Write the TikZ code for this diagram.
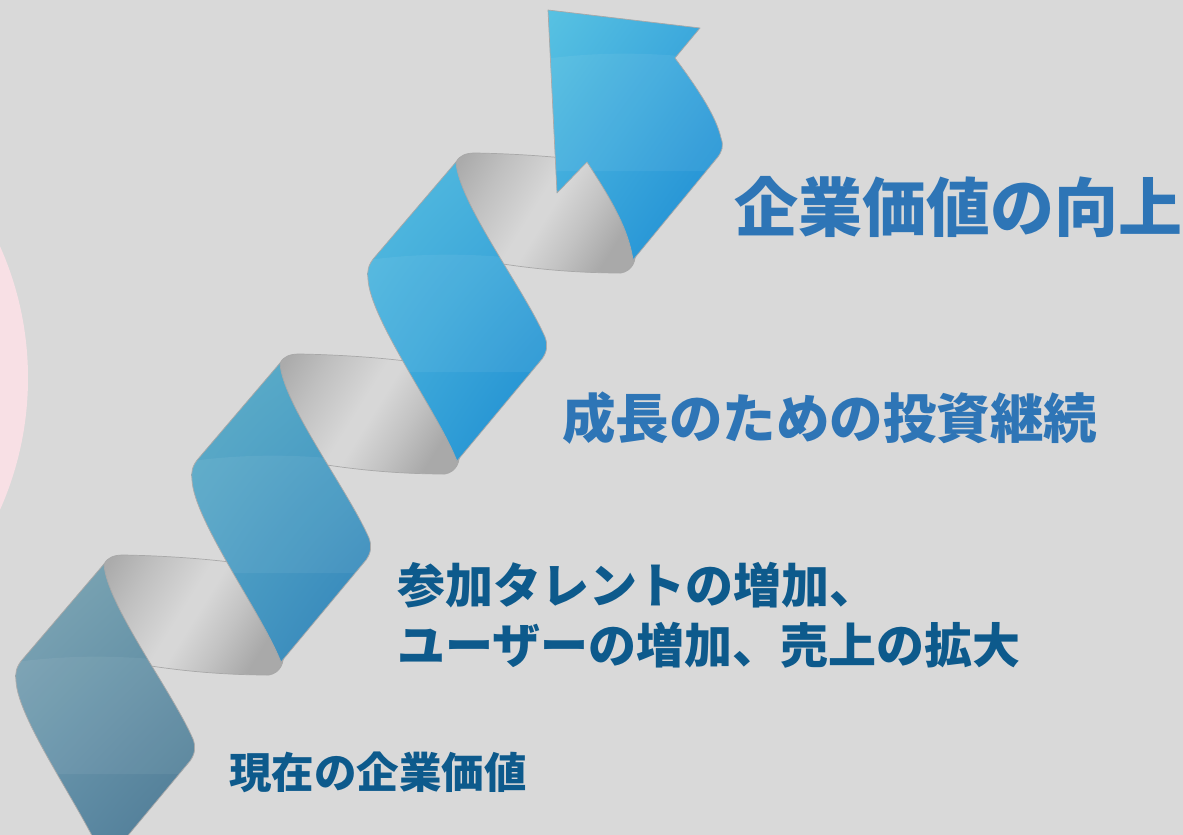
\documentclass[tikz,border=0pt]{standalone}
\usepackage{fontspec}
\usetikzlibrary{shadings}
\newfontfamily\jp{Noto Sans CJK JP}
\definecolor{bg}{HTML}{D9D9D9}
\definecolor{blush}{HTML}{F8E0E5}
\definecolor{headblue}{HTML}{2E75B6}
\definecolor{deepblue}{HTML}{0D5A8C}
\definecolor{gA}{HTML}{ABABAB}
\definecolor{gB}{HTML}{C0C0C0}
\definecolor{gC}{HTML}{D7D7D7}
\definecolor{gD}{HTML}{C3C3C3}
\definecolor{gE}{HTML}{A9A9A9}
\definecolor{blue1a}{HTML}{82A8B6}
\definecolor{blue1b}{HTML}{6B9AAC}
\definecolor{blue1c}{HTML}{5E8DA7}
\definecolor{blue1d}{HTML}{4B7692}
\definecolor{blue2a}{HTML}{60AEC8}
\definecolor{blue2b}{HTML}{4EA4C7}
\definecolor{blue2c}{HTML}{4A9CC4}
\definecolor{blue2d}{HTML}{3081B8}
\definecolor{blue3a}{HTML}{56BCDF}
\definecolor{blue3b}{HTML}{44AEDC}
\definecolor{blue3c}{HTML}{3CA8DA}
\definecolor{blue3d}{HTML}{1A8AD0}
\definecolor{blue4a}{HTML}{58C2E2}
\definecolor{blue4b}{HTML}{3AA6DC}
\definecolor{blue4c}{HTML}{3AA6DC}
\definecolor{blue4d}{HTML}{1A8AD2}
\pgfdeclarehorizontalshading{graypanel}{100bp}{color(0bp)=(gA); color(25bp)=(gA); color(36bp)=(gB); color(50bp)=(gC); color(54bp)=(gC); color(64bp)=(gD); color(75bp)=(gE); color(100bp)=(gE)}
% one turn of the ribbon: front (blue) face and inner (grey) face
\newcommand\ribbonfront{(280,363) -- (198,459) .. controls (192,466) and (191,473) .. (192,480) .. controls (194,520) and (260,610) .. (281,662) -- (366,560) .. controls (371,553) and (372,546) .. (369,538) .. controls (348,490) and (282,403) .. (280,363) -- cycle}
\newcommand\ribbonback{(280,363) .. controls (284,356) and (290,354) .. (300,354) .. controls (350,355) and (400,359) .. (440,366) -- (459,450) .. controls (461,462) and (456,472) .. (445,474) .. controls (400,474) and (360,470) .. (327,465) -- (250,420) -- cycle}
\newcommand\ribbongloss{(150,468) .. controls (250,448) and (330,455) .. (420,470) -- (420,573) -- (150,573) -- cycle}
% the arrow head that ends the ribbon
\newcommand\ribbonhead{(548,10) -- (700,28) -- (675,58) .. controls (695,85) and (716,115) .. (721,138) .. controls (724,146) and (722,152) .. (717,158) -- (633,260) .. controls (628,225) and (605,190) .. (587,162) -- (557,193) -- cycle}
\begin{document}
\begin{tikzpicture}[x=1pt,y=-1pt,
  edge/.style={draw=black!34,line width=0.7pt,line join=round},
  backface/.style={edge,shading=graypanel,shading angle=-32},
  gloss/.style={fill=white,opacity=0.06},
  caption/.style={inner sep=0pt,anchor=west,font=\jp\bfseries}]
\useasboundingbox (0,0) rectangle (1183,835);
\begin{scope}
  \clip (0,0) rectangle (1183,835);
  \fill[bg] (0,0) rectangle (1183,835);
  \fill[blush] (-295,378) circle[radius=323];

  % inner faces, behind everything
  \path[backface,shift={(-176,201)}] \ribbonback;
  \path[backface] \ribbonback;
  \path[backface,shift={(176,-201)}] \ribbonback;

  % lowest turn
  \begin{scope}[shift={(-176,201)}]
    \path[edge,upper left=blue1a,upper right=blue1b,lower left=blue1c,lower right=blue1d] \ribbonfront;
    \begin{scope}
      \clip \ribbonfront;
      \fill[gloss] \ribbongloss;
    \end{scope}
  \end{scope}
  % middle turn
  \path[edge,upper left=blue2a,upper right=blue2b,lower left=blue2c,lower right=blue2d] \ribbonfront;
  \begin{scope}
    \clip \ribbonfront;
    \fill[gloss] \ribbongloss;
  \end{scope}
  % upper turn
  \begin{scope}[shift={(176,-201)}]
    \path[edge,upper left=blue3a,upper right=blue3b,lower left=blue3c,lower right=blue3d] \ribbonfront;
    \begin{scope}
      \clip \ribbonfront;
      \fill[gloss] \ribbongloss;
    \end{scope}
  \end{scope}
  % arrow head
  \path[edge,upper left=blue4a,upper right=blue4b,lower left=blue4c,lower right=blue4d] \ribbonhead;
  \begin{scope}
    \clip \ribbonhead;
    \fill[gloss,shift={(352,-402)}] \ribbongloss;
  \end{scope}
\end{scope}

% captions along the ribbon
\node[caption,text=headblue,font=\jp\bfseries\fontsize{64}{70}\selectfont] (goal) at (734,207) {企業価値の向上};
\node[caption,text=headblue,font=\jp\bfseries\fontsize{53.5}{60}\selectfont] (invest) at (562,418) {成長のための投資継続};
\node[caption,text=deepblue,font=\jp\bfseries\fontsize{48}{54}\selectfont] (growthA) at (397,585) {参加タレントの増加、};
\node[caption,text=deepblue,font=\jp\bfseries\fontsize{48}{54}\selectfont] (growthB) at (397,645) {ユーザーの増加、売上の拡大};
\node[caption,text=deepblue,font=\jp\bfseries\fontsize{42.5}{48}\selectfont] (now) at (229,772) {現在の企業価値};
\end{tikzpicture}
\end{document}
